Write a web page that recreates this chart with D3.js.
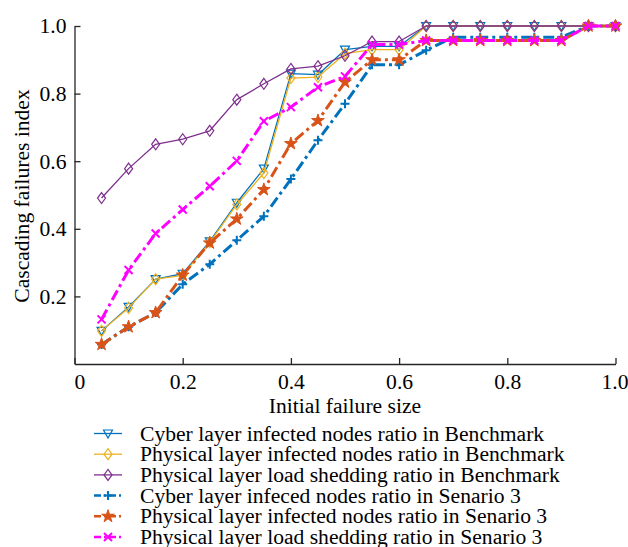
<!DOCTYPE html>
<html><head><meta charset="utf-8">
<script src="https://cdn.jsdelivr.net/npm/d3@7"></script>
<style>body{margin:0;background:#fff}svg{display:block}text{font-family:"Liberation Serif","Times New Roman",serif;fill:#000}</style>
</head><body><svg id="c" width="628" height="547"></svg>
<script>
const xs = [0.05,0.1,0.15,0.2,0.25,0.3,0.35,0.4,0.45,0.5,0.55,0.6,0.65,0.7,0.75,0.8,0.85,0.9,0.95,1.0];
const cyberBench   = [0.098,0.169,0.251,0.267,0.363,0.477,0.578,0.859,0.856,0.930,0.940,0.940,1,1,1,1,1,1,1,1];
const physBench    = [0.098,0.166,0.251,0.262,0.360,0.472,0.565,0.846,0.849,0.918,0.930,0.930,1,1,1,1,1,1,1,1];
const loadBench    = [0.491,0.578,0.650,0.665,0.690,0.782,0.829,0.873,0.881,0.912,0.954,0.954,1,1,1,1,1,1,1,1];
const cyberS3      = [0.058,0.110,0.152,0.236,0.295,0.366,0.437,0.547,0.662,0.770,0.885,0.885,0.928,0.967,0.967,0.967,0.967,0.967,1,1];
const physS3       = [0.058,0.110,0.152,0.263,0.358,0.429,0.516,0.652,0.720,0.834,0.900,0.900,0.957,0.957,0.957,0.957,0.957,0.957,1,1];
const loadS3       = [0.132,0.278,0.386,0.457,0.526,0.601,0.718,0.760,0.819,0.851,0.945,0.945,0.957,0.957,0.957,0.957,0.957,0.957,1,1];
const seriesNames = ["Cyber layer infected nodes ratio in Benchmark","Physical layer infected nodes ratio in Benchmark","Physical layer load shedding ratio in Benchmark","Cyber layer infeced nodes ratio in Senario 3","Physical layer infected nodes ratio in Senario 3","Physical layer load shedding ratio in Senario 3"];
const xTicks = [0,0.2,0.4,0.6,0.8,1.0];
const xTickLabels = ["0","0.2","0.4","0.6","0.8","1.0"];
const yTicks = [0.2,0.4,0.6,0.8,1.0];
const yTickLabels = ["0.2","0.4","0.6","0.8","1.0"];

const styles = [
  {color:"#0072BD", w:1.3, dash:null, marker:"tri"},
  {color:"#EDB120", w:1.3, dash:null, marker:"dia"},
  {color:"#7E2F8E", w:1.3, dash:null, marker:"dia"},
  {color:"#0072BD", w:3, dash:"11,4,3,4", marker:"plus"},
  {color:"#D95319", w:3, dash:"11,4,3,4", marker:"star"},
  {color:"#FF00FF", w:3, dash:"11,4,3,4", marker:"x"}
];
const data = [cyberBench, physBench, loadBench, cyberS3, physS3, loadS3];
const FS = "21.6px";

const svg = d3.select("#c");
const x = d3.scaleLinear().domain([0,1]).range([74.5,615.5]);
const y = d3.scaleLinear().domain([0,1]).range([364,26]);

function drawMarker(g, type, cx, cy, color) {
  if (type === "tri") {
    g.append("path").attr("d", `M${cx-4.5},${cy-3.5}L${cx+4.5},${cy-3.5}L${cx},${cy+4.5}Z`)
      .attr("fill","none").attr("stroke",color).attr("stroke-width",1.2);
  } else if (type === "dia") {
    g.append("path").attr("d", `M${cx},${cy-5.5}L${cx+4},${cy}L${cx},${cy+5.5}L${cx-4},${cy}Z`)
      .attr("fill","none").attr("stroke",color).attr("stroke-width",1.2);
  } else if (type === "plus") {
    g.append("path").attr("d", `M${cx-4.5},${cy}L${cx+4.5},${cy}M${cx},${cy-4.5}L${cx},${cy+4.5}`)
      .attr("stroke",color).attr("stroke-width",2);
  } else if (type === "x") {
    g.append("path").attr("d", `M${cx-4},${cy-4}L${cx+4},${cy+4}M${cx-4},${cy+4}L${cx+4},${cy-4}`)
      .attr("stroke",color).attr("stroke-width",2);
  } else if (type === "star") {
    const sym = d3.symbol().type(d3.symbolStar).size(50);
    g.append("path").attr("d", sym()).attr("transform",`translate(${cx},${cy})`)
      .attr("fill",color).attr("stroke",color).attr("stroke-width",1);
  }
}

const line = d3.line().x((d,i)=>x(xs[i])).y(d=>y(d));
data.forEach((vals, k) => {
  const s = styles[k];
  const g = svg.append("g");
  g.append("path").datum(vals).attr("d", line).attr("fill","none")
    .attr("stroke", s.color).attr("stroke-width", s.w)
    .attr("stroke-dasharray", s.dash).attr("stroke-linejoin","round");
  vals.forEach((v,i) => drawMarker(g, s.marker, x(xs[i]), y(v), s.color));
});

// axes
const xAxis = svg.append("g").attr("transform","translate(0,364)")
  .call(d3.axisBottom(x).tickValues(xTicks).tickFormat((d,i)=>xTickLabels[i]).tickSizeInner(-6).tickSizeOuter(0).tickPadding(10));
const yAxis = svg.append("g").attr("transform","translate(74.5,0)")
  .call(d3.axisLeft(y).tickValues(yTicks).tickFormat((d,i)=>yTickLabels[i]).tickSizeInner(-6).tickSizeOuter(0).tickPadding(8));
[xAxis,yAxis].forEach(a=>{
  a.attr("font-family",null).attr("font-size",null);
  a.selectAll("path.domain").attr("stroke","#262626").attr("stroke-width",1.3);
  a.selectAll(".tick line").attr("stroke","#262626").attr("stroke-width",1.3);
  a.selectAll("text").style("font-family","'Liberation Serif','Times New Roman',serif").style("font-size",FS).attr("fill","#000");
});
xAxis.selectAll(".tick").filter(d=>d===0).select("text").attr("dx",5);
xAxis.selectAll(".tick").filter(d=>d===1).select("text").attr("dx",-1);

svg.append("text").attr("x",345).attr("y",413).attr("text-anchor","middle").style("font-size",FS).text("Initial failure size");
svg.append("text").attr("transform","translate(29,196) rotate(-90)").attr("text-anchor","middle").style("font-size",FS).text("Cascading failures index");

// legend
const legY0 = 433.5, legDy = 20.7;
seriesNames.forEach((name,k)=>{
  const s = styles[k];
  const ly = legY0 + k*legDy;
  const g = svg.append("g");
  g.append("line").attr("x1",94).attr("x2",122).attr("y1",ly).attr("y2",ly)
    .attr("stroke",s.color).attr("stroke-width",k<3?1.3:2.5).attr("stroke-dasharray",k<3?null:"7,3,2,3");
  drawMarker(g, s.marker, 108, ly, s.color);
  g.append("text").attr("x",140).attr("y",ly+7).style("font-size",FS).text(name);
});
</script></body></html>
